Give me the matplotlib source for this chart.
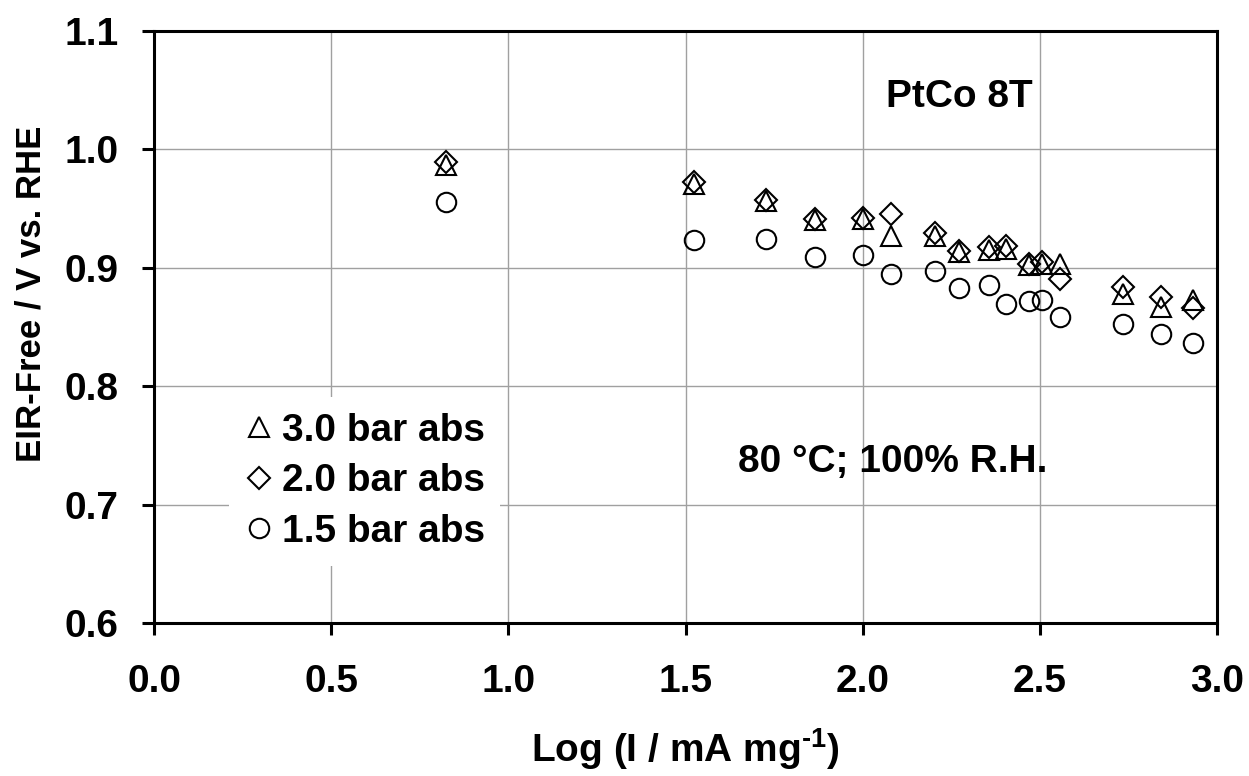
import numpy as np
import matplotlib.pyplot as plt

plt.rcParams['font.family'] = ['Liberation Sans', 'DejaVu Sans']
plt.rcParams['font.weight'] = 'bold'
plt.rcParams['mathtext.fontset'] = 'custom'
plt.rcParams['mathtext.rm'] = 'Liberation Sans:bold'
plt.rcParams['mathtext.bf'] = 'Liberation Sans:bold'

# log current (x) shared by all three series
log_i = [0.824, 1.524, 1.727, 1.866, 2.001, 2.080, 2.204, 2.272, 2.357,
         2.405, 2.469, 2.506, 2.557, 2.734, 2.843, 2.932]

# IR-free potential, V vs RHE
v_30bar = [0.987, 0.971, 0.956, 0.940, 0.941, 0.927, 0.927, 0.913, 0.915,
           0.916, 0.902, 0.903, 0.903, 0.878, 0.867, 0.873]
v_20bar = [0.989, 0.972, 0.957, 0.941, 0.942, 0.945, 0.929, 0.914, 0.917,
           0.918, 0.903, 0.905, 0.890, 0.884, 0.875, 0.866]
v_15bar = [0.955, 0.923, 0.924, 0.909, 0.911, 0.895, 0.897, 0.883, 0.885,
           0.869, 0.872, 0.873, 0.858, 0.852, 0.844, 0.836]

fig = plt.figure(figsize=(12.49, 7.76), dpi=100)
ax = fig.add_axes([0.1233, 0.1972, 0.8511, 0.7632])

mk = dict(linestyle='none', markerfacecolor='none', markeredgecolor='black',
          markeredgewidth=1.5)
ax.plot(log_i, v_30bar, marker='^', markersize=14, label='3.0 bar abs', **mk)
ax.plot(log_i, v_20bar, marker='D', markersize=11.5, label='2.0 bar abs', **mk)
ax.plot(log_i, v_15bar, marker='o', markersize=14, label='1.5 bar abs', **mk)

ax.set_xlim(0, 3.0)
ax.set_ylim(0.6, 1.1)
ax.set_xticks(np.arange(0, 3.01, 0.5))
ax.set_yticks(np.arange(0.6, 1.101, 0.1))
ax.xaxis.set_major_formatter(plt.FormatStrFormatter('%.1f'))
ax.yaxis.set_major_formatter(plt.FormatStrFormatter('%.1f'))
ax.grid(True, color='#a0a0a0', linewidth=1.0)
ax.set_axisbelow(True)

for s in ax.spines.values():
    s.set_linewidth(2.2)
ax.tick_params(direction='out', length=8.5, width=2.2, labelsize=28)
ax.tick_params(axis='x', pad=21)
ax.tick_params(axis='y', pad=17)

ax.set_xlabel('Log (I / mA mg$^{\\text{-1}}$)', fontsize=28, fontweight='bold', labelpad=19)
ax.set_ylabel('EIR-Free / V vs. RHE', fontsize=25, fontweight='bold')
ax.yaxis.set_label_coords(-0.100, 0.555)

ax.text(2.273, 1.044, 'PtCo 8T', fontsize=28, fontweight='bold', ha='center', va='center')
ax.text(2.084, 0.736, '80 \u00b0C; 100% R.H.', fontsize=28, fontweight='bold', ha='center', va='center')

leg = ax.legend(loc='upper left', bbox_to_anchor=(0.0706, 0.3816), fontsize=28,
                frameon=True, edgecolor='none', facecolor='white', framealpha=1,
                handlelength=0.75, handletextpad=0.2, labelspacing=0.38,
                borderpad=0.4, borderaxespad=0, fancybox=False)
for t in leg.get_texts():
    t.set_fontweight('bold')

plt.savefig('out.png', dpi=100)
